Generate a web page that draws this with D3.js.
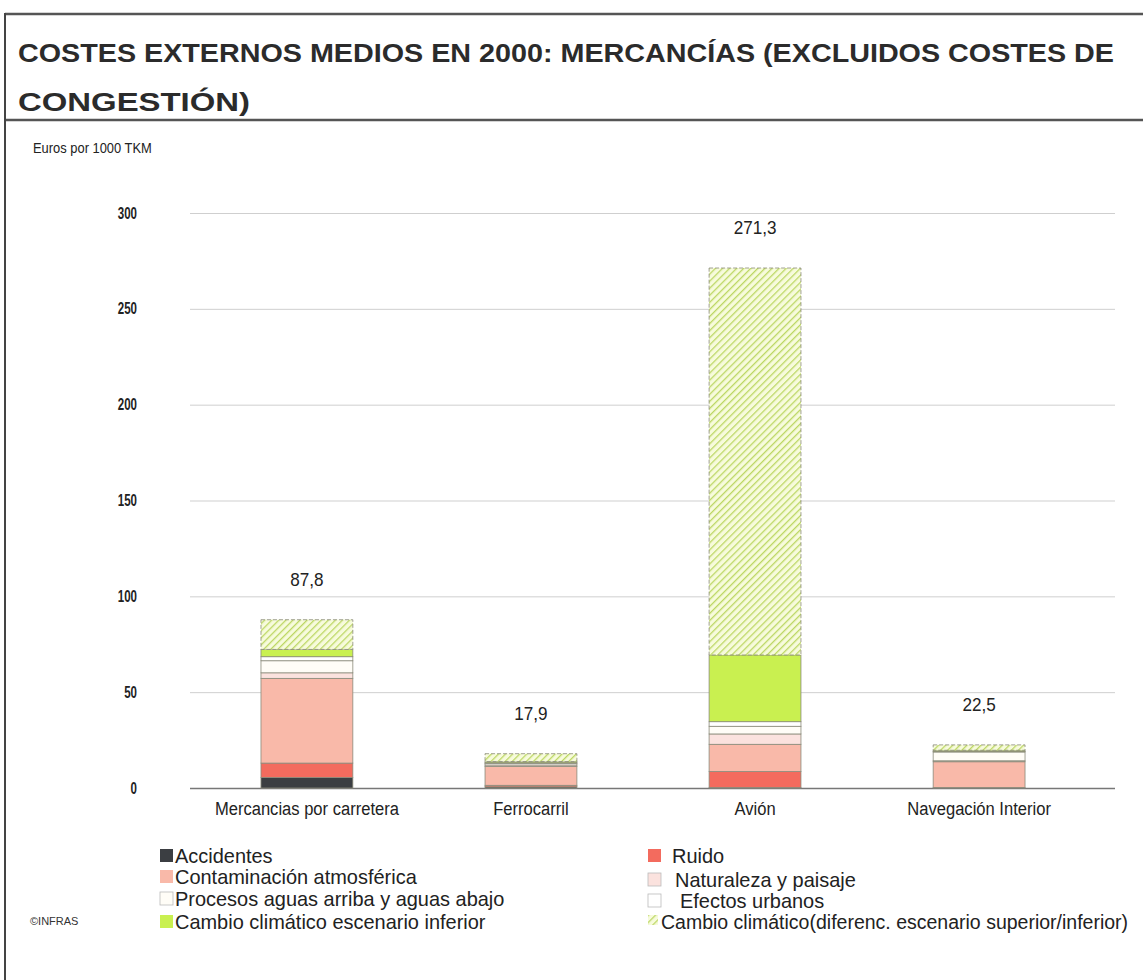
<!DOCTYPE html>
<html>
<head>
<meta charset="utf-8">
<script src="https://cdn.jsdelivr.net/npm/d3@7"></script>
<style>
  body { margin: 0; background: #fff; }
  text { font-family: "Liberation Sans", Arial, sans-serif; }
</style>
</head>
<body>
<svg id="chart" width="1143" height="980"></svg>
<script>
// datos
const modos = ["Mercancias por carretera", "Ferrocarril", "Avión", "Navegación Interior"];
const totales = ["87,8", "17,9", "271,3", "22,5"];

const accidentes    = [5.5, 0.6, 0.3, 0.3];
const ruido         = [7.5, 0.8, 8.3, 0.0];
const contaminacion = [44.2, 9.8, 14.2, 13.4];
const naturaleza    = [2.9, 0.8, 5.4, 0.5];
const procesos      = [6.3, 0.8, 4.0, 4.6];
const efectos       = [2.1, 0.4, 2.4, 0.3];
const cambioInf     = [3.8, 0.6, 34.8, 0.6];
const cambioDif     = [15.5, 4.1, 201.9, 2.8];

const tickVals = [0, 50, 100, 150, 200, 250, 300];

const series = [
  {key: "acc", name: "Accidentes", vals: accidentes, color: "#3b3e42"},
  {key: "rui", name: "Ruido", vals: ruido, color: "#f36b5e"},
  {key: "con", name: "Contaminación atmosférica", vals: contaminacion, color: "#f9b9a9"},
  {key: "nat", name: "Naturaleza y paisaje", vals: naturaleza, color: "#fbe2de"},
  {key: "pro", name: "Procesos aguas arriba y aguas abajo", vals: procesos, color: "#fffdf7"},
  {key: "efe", name: "Efectos urbanos", vals: efectos, color: "#ffffff"},
  {key: "cin", name: "Cambio climático escenario inferior", vals: cambioInf, color: "#c9f050"},
  {key: "cdi", name: "Cambio climático(diferenc. escenario superior/inferior)", vals: cambioDif, color: "url(#hatch)"}
];

const svg = d3.select("#chart");

// estrecha el texto para imitar la fuente condensada
function condensar(sel, f) {
  sel.each(function(d, i) {
    const k = typeof f === "function" ? f(d, i) : f;
    if (k === 1) return;
    const len = this.getComputedTextLength();
    d3.select(this).attr("textLength", len * k).attr("lengthAdjust", "spacingAndGlyphs");
  });
}

// patron rayado
const defs = svg.append("defs");
const pat = defs.append("pattern")
  .attr("id", "hatch")
  .attr("patternUnits", "userSpaceOnUse")
  .attr("width", 5).attr("height", 5)
  .attr("patternTransform", "rotate(45)");
pat.append("rect").attr("width", 5).attr("height", 5).attr("fill", "#f7fbdc");
pat.append("line").attr("x1", 0).attr("y1", 0).attr("x2", 0).attr("y2", 5)
  .attr("stroke", "#bcd763").attr("stroke-width", 2.6);

// marco
svg.append("line").attr("x1", 5).attr("x2", 1143).attr("y1", 14).attr("y2", 14)
  .attr("stroke", "#555").attr("stroke-width", 2.5);
svg.append("line").attr("x1", 5).attr("x2", 1143).attr("y1", 120).attr("y2", 120)
  .attr("stroke", "#555").attr("stroke-width", 2.5);
svg.append("line").attr("x1", 5).attr("x2", 5).attr("y1", 13).attr("y2", 980)
  .attr("stroke", "#444").attr("stroke-width", 2);

// titulo
svg.append("text").attr("x", 18).attr("y", 62)
  .attr("font-size", 25).attr("font-weight", "bold").attr("fill", "#2b2b2b")
  .attr("textLength", 1096).attr("lengthAdjust", "spacingAndGlyphs")
  .text("COSTES EXTERNOS MEDIOS EN 2000: MERCANCÍAS (EXCLUIDOS COSTES DE");
svg.append("text").attr("x", 18).attr("y", 111)
  .attr("font-size", 25).attr("font-weight", "bold").attr("fill", "#2b2b2b")
  .attr("textLength", 232).attr("lengthAdjust", "spacingAndGlyphs")
  .text("CONGESTIÓN)");

svg.append("text").attr("x", 33).attr("y", 153)
  .attr("font-size", 15).attr("fill", "#222")
  .text("Euros por 1000 TKM")
  .call(condensar, 0.86);

const x = d3.scaleBand().domain(modos).range([196, 1090])
  .paddingInner(0.59).paddingOuter(0.29);
const y = d3.scaleLinear().domain([0, 300]).range([788, 213]);

const gridL = 190, gridR = 1115;

// eje y con lineas de cuadricula
const yAxis = svg.append("g")
  .attr("transform", `translate(${gridL},0)`)
  .call(d3.axisLeft(y).tickValues(tickVals).tickSize(-(gridR - gridL)).tickPadding(53));
yAxis.select(".domain").remove();
yAxis.selectAll(".tick line").attr("stroke", d => d === 0 ? "#777" : "#cfcfcf")
  .attr("stroke-width", d => d === 0 ? 1.5 : 1);
yAxis.selectAll(".tick text").attr("font-size", 16).attr("font-weight", "bold")
  .attr("fill", "#222").style("font-family", "Liberation Sans, sans-serif")
  .call(condensar, 0.72);

// eje x
const xAxis = svg.append("g")
  .attr("transform", "translate(0,788)")
  .call(d3.axisBottom(x).tickSize(0).tickPadding(14));
xAxis.select(".domain").remove();
xAxis.selectAll(".tick text").attr("font-size", 18).attr("fill", "#222")
  .style("font-family", "Liberation Sans, sans-serif")
  .call(condensar, 0.92);

// barras apiladas
const tabla = modos.map((m, i) => {
  const row = {modo: m};
  series.forEach(s => row[s.key] = s.vals[i]);
  return row;
});
const stack = d3.stack().keys(series.map(s => s.key))(tabla);

stack.forEach((layer, li) => {
  const s = series[li];
  svg.append("g").selectAll("rect")
    .data(layer)
    .join("rect")
    .attr("x", d => x(d.data.modo))
    .attr("width", x.bandwidth())
    .attr("y", d => y(d[1]))
    .attr("height", d => y(d[0]) - y(d[1]))
    .attr("fill", s.color)
    .attr("stroke", d => (d[1] - d[0]) > 0 ? "#8a8a7a" : "none")
    .attr("stroke-width", 0.8)
    .attr("stroke-dasharray", s.key === "cdi" ? "4,2" : null);
});

// etiquetas de total
svg.append("g").selectAll("text")
  .data(modos)
  .join("text")
  .attr("x", d => x(d) + x.bandwidth() / 2)
  .attr("y", (d, i) => y(d3.sum(series, s => s.vals[i])) - 34)
  .attr("text-anchor", "middle")
  .attr("font-size", 19).attr("fill", "#222")
  .text((d, i) => totales[i])
  .call(condensar, 0.9);

// leyenda
const legPos = [
  {sx: 160, tx: 175, y: 856},
  {sx: 648, tx: 672, y: 856},
  {sx: 160, tx: 175, y: 877},
  {sx: 648, tx: 675, y: 880},
  {sx: 160, tx: 175, y: 899},
  {sx: 648, tx: 680, y: 901},
  {sx: 160, tx: 175, y: 922},
  {sx: 648, tx: 661, y: 922}
];
const leg = svg.append("g").selectAll("g")
  .data(series)
  .join("g");
leg.append("rect")
  .attr("x", (d, i) => legPos[i].sx)
  .attr("y", (d, i) => legPos[i].y - 7)
  .attr("width", (d, i) => i === 7 ? 10 : 13)
  .attr("height", (d, i) => i === 7 ? 10 : 13)
  .attr("fill", d => d.color)
  .attr("stroke", d => ["pro", "efe", "nat"].includes(d.key) ? "#bbb" : "none")
  .attr("stroke-width", 0.8);
leg.append("text")
  .attr("x", (d, i) => legPos[i].tx)
  .attr("y", (d, i) => legPos[i].y + 7)
  .attr("font-size", (d, i) => i === 7 ? 19.5 : 21).attr("fill", "#222")
  .text(d => d.name)
  .call(condensar, (d, i) => i === 7 ? 1 : 0.95);

svg.append("text").attr("x", 30).attr("y", 925)
  .attr("font-size", 11).attr("fill", "#333")
  .text("©INFRAS");
</script>
</body>
</html>
